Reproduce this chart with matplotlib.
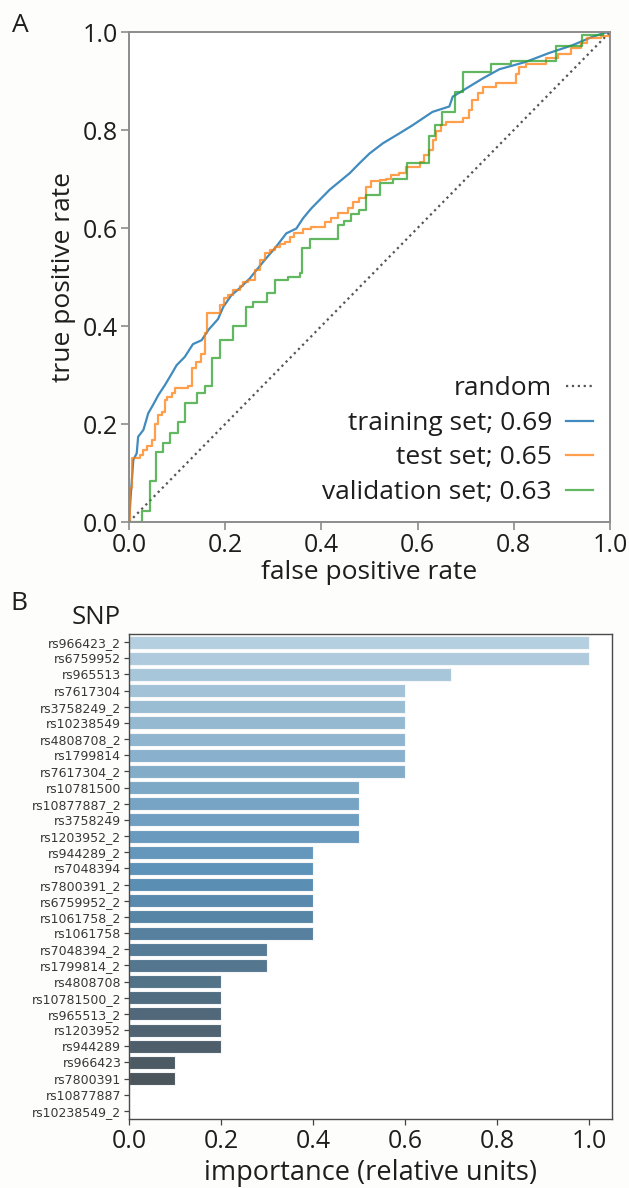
import numpy as np
import matplotlib
matplotlib.use("Agg")
import matplotlib.pyplot as plt
import seaborn as sns

# ROC curves: (false positive rate, true positive rate)
train_fpr = [0.0, 0.004, 0.009, 0.016, 0.019, 0.030, 0.040, 0.050, 0.061, 0.075, 0.089, 0.099,
             0.116, 0.133, 0.151, 0.165, 0.185, 0.196, 0.213, 0.230, 0.251, 0.279, 0.306, 0.327,
             0.348, 0.362, 0.379, 0.400, 0.417, 0.438, 0.459, 0.479, 0.500, 0.528, 0.562, 0.590,
             0.631, 0.666, 0.673, 0.735, 0.770, 0.825, 0.873, 0.922, 0.963, 0.991, 1.0]
train_tpr = [0.0, 0.059, 0.127, 0.140, 0.174, 0.188, 0.222, 0.239, 0.259, 0.280, 0.303, 0.320,
             0.337, 0.363, 0.371, 0.392, 0.414, 0.439, 0.463, 0.477, 0.497, 0.531, 0.562, 0.589,
             0.599, 0.620, 0.640, 0.661, 0.678, 0.695, 0.712, 0.732, 0.752, 0.773, 0.793, 0.810,
             0.837, 0.848, 0.868, 0.905, 0.924, 0.939, 0.957, 0.973, 0.990, 0.999, 1.0]

test_fpr = [0.0, 0.002, 0.007, 0.023, 0.030, 0.037, 0.047, 0.054, 0.061, 0.068, 0.075, 0.080,
            0.089, 0.095, 0.123, 0.130, 0.140, 0.149, 0.158, 0.163, 0.189, 0.198, 0.206, 0.216,
            0.230, 0.237, 0.248, 0.261, 0.272, 0.282, 0.293, 0.303, 0.313, 0.324, 0.334, 0.344,
            0.362, 0.379, 0.407, 0.420, 0.434, 0.455, 0.465, 0.479, 0.493, 0.504, 0.521, 0.535,
            0.545, 0.562, 0.576, 0.604, 0.614, 0.623, 0.631, 0.638, 0.649, 0.659, 0.694, 0.707,
            0.714, 0.725, 0.735, 0.763, 0.804, 0.811, 0.825, 0.867, 0.891, 0.918, 0.939, 0.953,
            0.981, 1.0]
test_tpr = [0.0, 0.069, 0.130, 0.137, 0.147, 0.156, 0.167, 0.201, 0.218, 0.225, 0.249, 0.256,
            0.263, 0.273, 0.278, 0.314, 0.327, 0.343, 0.385, 0.426, 0.443, 0.457, 0.463, 0.473,
            0.482, 0.490, 0.494, 0.514, 0.535, 0.548, 0.555, 0.562, 0.567, 0.572, 0.581, 0.589,
            0.597, 0.603, 0.613, 0.620, 0.630, 0.640, 0.654, 0.661, 0.684, 0.695, 0.698, 0.701,
            0.708, 0.713, 0.725, 0.735, 0.749, 0.759, 0.780, 0.797, 0.810, 0.817, 0.824, 0.841,
            0.861, 0.875, 0.888, 0.895, 0.915, 0.929, 0.935, 0.946, 0.956, 0.967, 0.977, 0.987,
            0.992, 1.0]

valid_fpr = [0.0, 0.028, 0.044, 0.057, 0.071, 0.085, 0.102, 0.116, 0.142, 0.158, 0.173, 0.189,
             0.216, 0.244, 0.258, 0.286, 0.303, 0.331, 0.355, 0.360, 0.376, 0.434, 0.448, 0.462,
             0.479, 0.492, 0.521, 0.548, 0.578, 0.623, 0.637, 0.651, 0.678, 0.694, 0.752, 0.794,
             0.887, 0.942, 0.985, 1.0]
valid_tpr = [0.0, 0.022, 0.083, 0.142, 0.161, 0.181, 0.205, 0.242, 0.263, 0.278, 0.334, 0.371,
             0.401, 0.439, 0.448, 0.468, 0.493, 0.501, 0.508, 0.559, 0.577, 0.606, 0.615, 0.629,
             0.637, 0.667, 0.691, 0.701, 0.733, 0.788, 0.810, 0.837, 0.878, 0.918, 0.934, 0.941,
             0.971, 0.994, 1.0, 1.0]

auc_labels = ["training set; 0.69", "test set; 0.65", "validation set; 0.63"]

# SNP importances
snps = ["rs966423_2", "rs6759952", "rs965513", "rs7617304", "rs3758249_2", "rs10238549",
        "rs4808708_2", "rs1799814", "rs7617304_2", "rs10781500", "rs10877887_2", "rs3758249",
        "rs1203952_2", "rs944289_2", "rs7048394", "rs7800391_2", "rs6759952_2", "rs1061758_2",
        "rs1061758", "rs7048394_2", "rs1799814_2", "rs4808708", "rs10781500_2", "rs965513_2",
        "rs1203952", "rs944289", "rs966423", "rs7800391", "rs10877887", "rs10238549_2"]
importance = [1.0, 1.0, 0.7, 0.6, 0.6, 0.6, 0.6, 0.6, 0.6, 0.5, 0.5, 0.5, 0.5, 0.4, 0.4, 0.4,
              0.4, 0.4, 0.4, 0.3, 0.3, 0.2, 0.2, 0.2, 0.2, 0.2, 0.1, 0.1, 0.0, 0.0]

big_font = "Open Sans"
txt = "#1e1e1e"
bg = "#fdfdfb"
ticks = np.arange(0, 1.01, 0.2)
tick_labels = ["%.1f" % t for t in ticks]

fig = plt.figure(figsize = (6.29, 11.88), dpi = 100, facecolor = bg)

# --- panel A: ROC ---
ax1 = fig.add_axes([129/629, 1 - 522/1188, 481/629, 490/1188])
ax1.set_facecolor("white")
ax1.plot([0, 1], [0, 1], ls = ":", color = "#555555", lw = 1.6, label = "random")
ax1.plot(train_fpr, train_tpr, color = "tab:blue", lw = 1.6, alpha = 0.85, label = auc_labels[0])
ax1.plot(test_fpr, test_tpr, color = "tab:orange", lw = 1.6, alpha = 0.75, drawstyle = "steps-post", label = auc_labels[1])
ax1.plot(valid_fpr, valid_tpr, color = "tab:green", lw = 1.6, alpha = 0.75, drawstyle = "steps-post", label = auc_labels[2])
ax1.set_xlim(0, 1)
ax1.set_ylim(0, 1)
ax1.set_xticks(ticks)
ax1.set_yticks(ticks)
ax1.set_xticklabels(tick_labels, family = big_font, fontsize = 18)
ax1.set_yticklabels(tick_labels, family = big_font, fontsize = 18)
ax1.tick_params(length = 6, width = 1.2, color = "#8c8c8c", pad = 2, labelcolor = txt)
for s in ax1.spines.values():
    s.set_color("#8c8c8c")
    s.set_linewidth(1.4)
ax1.set_xlabel("false positive rate", family = big_font, fontsize = 19, color = txt, labelpad = 1)
ax1.set_ylabel("true positive rate", family = big_font, fontsize = 19, color = txt)
ax1.yaxis.set_label_coords(-0.11, 0.5)
leg = ax1.legend(loc = "lower right", frameon = False, markerfirst = False, handlelength = 1.0,
                 prop = {"family": big_font, "size": 19}, labelspacing = 0.36,
                 borderaxespad = 0.25, handletextpad = 0.55)
for t in leg.get_texts():
    t.set_ha("right")
    t.set_color(txt)

# --- panel B: importance bars ---
ax2 = fig.add_axes([129/629, 1 - 1119/1188, 483/629, 485/1188])
ax2.set_facecolor("white")
# seaborn dark blues, desaturated and slightly washed out
colors = []
for c in sns.color_palette("Blues_d", len(snps)):
    c = np.array(sns.desaturate(c, 0.75))
    colors.append(0.9 * c + 0.1)
ypos = np.arange(len(snps))
ax2.barh(ypos, importance, height = 0.8, color = colors, edgecolor = "#f4f6f8", linewidth = 0.8)
ax2.set_ylim(len(snps) - 0.5, -0.5)
ax2.set_xlim(0, 1.05)
ax2.set_yticks(ypos)
ax2.set_yticklabels(snps, fontsize = 9, color = "#383838")
ax2.set_xticks(ticks)
ax2.set_xticklabels(tick_labels, family = big_font, fontsize = 18, color = txt)
ax2.tick_params(axis = "y", length = 3.5, width = 0.9, color = "#444444", pad = 2)
ax2.tick_params(axis = "x", length = 4, width = 0.9, color = "#444444", pad = 3)
for s in ax2.spines.values():
    s.set_color("#4a4a4a")
    s.set_linewidth(1.0)
ax2.set_xlabel("importance (relative units)", family = big_font, fontsize = 19.5, color = txt, labelpad = 4)

fig.text(96/629, 1 - 618/1188, "SNP", family = big_font, fontsize = 18.5, ha = "center", va = "center", color = txt)
fig.text(20/629, 1 - 25/1188, "A", family = big_font, fontsize = 19, ha = "center", va = "center", color = txt)
fig.text(19/629, 1 - 604/1188, "B", family = big_font, fontsize = 19, ha = "center", va = "center", color = txt)

fig.savefig("out.png", dpi = 100, facecolor = bg)
